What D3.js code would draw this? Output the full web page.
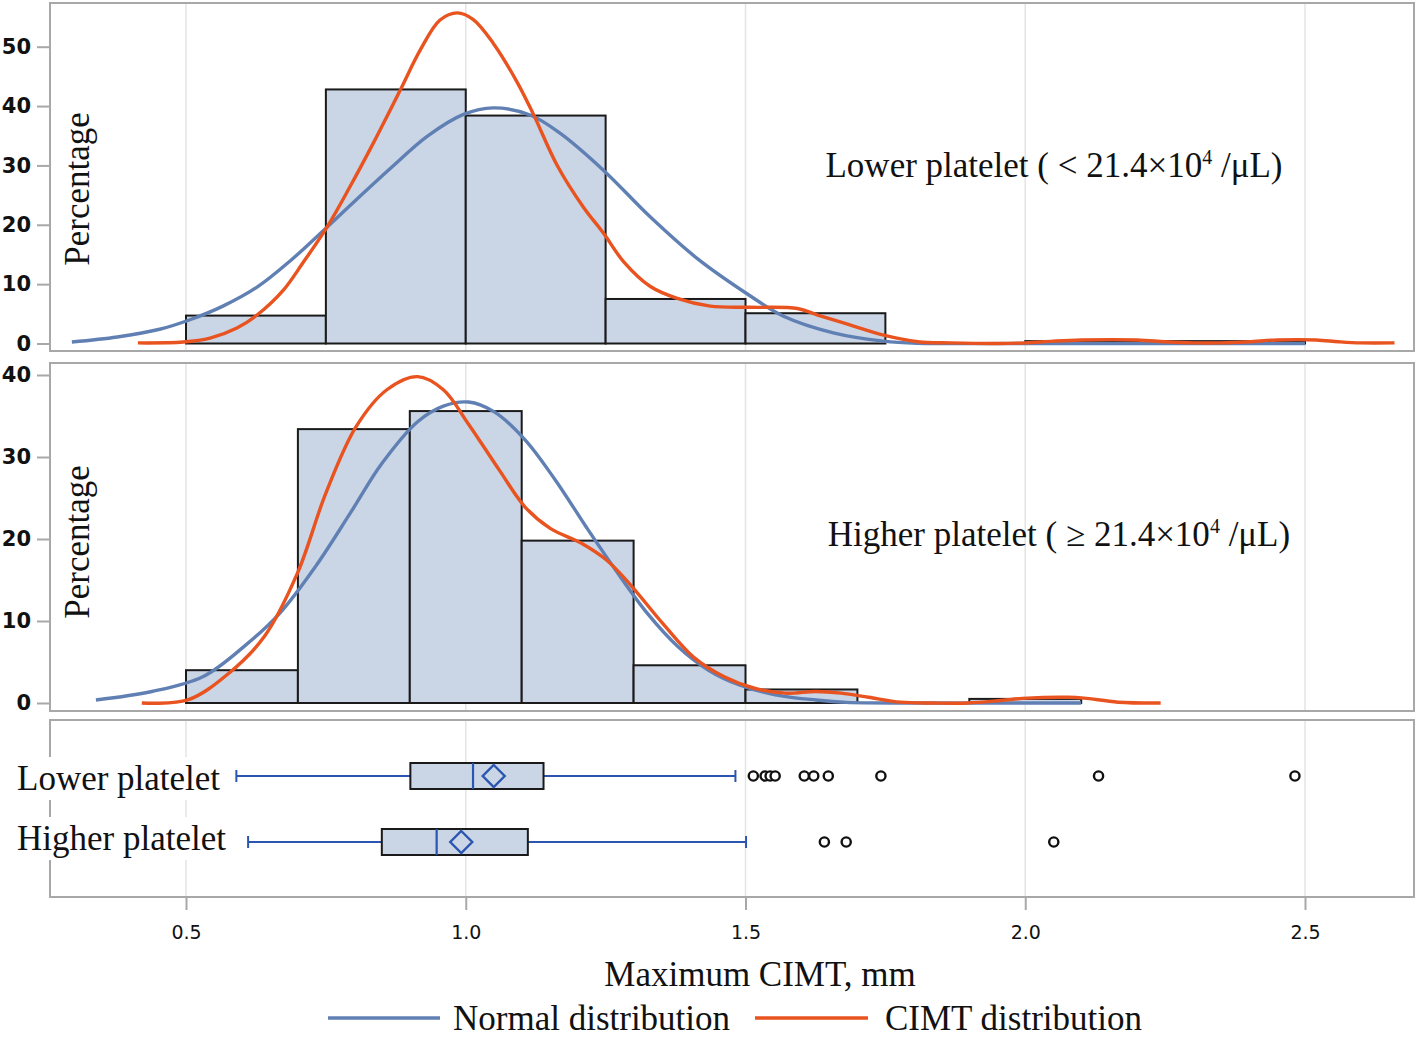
<!DOCTYPE html>
<html><head><meta charset="utf-8">
<script src="https://cdn.jsdelivr.net/npm/d3@7"></script>
<style>
html,body{margin:0;padding:0;background:#fff;}
svg{display:block;}
</style></head>
<body>
<svg id="chart" width="1418" height="1042"></svg>
<script>
// ---------- DATA ----------
const xTicks = [0.5, 1.0, 1.5, 2.0, 2.5];
const topYTicks = [0, 10, 20, 30, 40, 50];
const midYTicks = [0, 10, 20, 30, 40];

const topLabel = "Lower platelet ( < 21.4×10";
const midLabel = "Higher platelet ( ≥ 21.4×10";
const labelSup = "4";
const labelTail = " /μL)";

// Histogram: lower platelet (bin edges and percentages)
const topBinEdges = [0.5, 0.75, 1.0, 1.25, 1.5, 1.75, 2.0, 2.25, 2.5];
const topPct = [4.7, 42.8, 38.4, 7.5, 5.1, 0, 0.4, 0.4];
// Histogram: higher platelet
const midBinEdges = [0.5, 0.7, 0.9, 1.1, 1.3, 1.5, 1.7, 1.9, 2.1];
const midPct = [4.0, 33.4, 35.6, 19.8, 4.6, 1.65, 0, 0.5];

// Normal distribution curve (lower platelet) [mm, %]
const topNormal = [[0.296,0.25],[0.377,1.1],[0.453,2.4],[0.507,4.0],[0.566,6.3],[0.627,9.5],[0.686,13.9],[0.752,19.6],[0.811,24.8],[0.870,29.9],[0.931,34.9],[0.996,38.6],[1.049,39.7],[1.115,38.5],[1.169,35.4],[1.246,29.2],[1.330,21.3],[1.414,14.3],[1.504,8.3],[1.568,4.6],[1.657,1.8],[1.747,0.4],[1.808,0.05],[2.0,0],[2.5,0]];
// CIMT (kernel) distribution curve (lower platelet)
const topKernel = [[0.414,0.1],[0.495,0.25],[0.543,0.9],[0.591,2.6],[0.627,4.8],[0.674,9.0],[0.709,13.6],[0.752,19.6],[0.793,26.4],[0.835,33.8],[0.883,42.7],[0.919,49.5],[0.954,54.5],[0.985,55.7],[1.013,54.6],[1.049,50.6],[1.092,44.0],[1.121,38.6],[1.164,29.9],[1.210,23.0],[1.246,18.6],[1.282,13.8],[1.330,9.6],[1.378,7.6],[1.437,6.3],[1.509,6.1],[1.593,5.9],[1.629,4.8],[1.688,3.1],[1.747,1.4],[1.808,0.3],[1.867,0.1],[1.95,0],[2.0,0.1],[2.05,0.4],[2.1,0.6],[2.2,0.6],[2.25,0.3],[2.3,0.1],[2.35,0.1],[2.4,0.3],[2.45,0.6],[2.52,0.6],[2.56,0.3],[2.6,0.1],[2.66,0.1]];
// Normal distribution curve (higher platelet)
const midNormal = [[0.339,0.37],[0.439,1.4],[0.530,3.2],[0.604,6.9],[0.667,10.9],[0.731,16.6],[0.795,23.3],[0.850,29.2],[0.914,34.3],[0.960,36.2],[1.005,36.7],[1.051,35.5],[1.106,32.1],[1.160,27.2],[1.215,21.5],[1.270,16.0],[1.325,10.9],[1.379,6.9],[1.434,4.0],[1.489,2.2],[1.553,1.0],[1.626,0.37],[1.680,0.08],[1.8,0],[2.1,0]];
// CIMT (kernel) distribution curve (higher platelet)
const midKernel = [[0.421,0],[0.503,0.37],[0.576,3.6],[0.640,8.1],[0.699,15.8],[0.750,25.6],[0.804,33.7],[0.859,38.2],[0.914,39.8],[0.960,38.2],[1.005,34.0],[1.060,28.4],[1.106,23.9],[1.151,21.3],[1.206,19.5],[1.252,17.4],[1.297,14.2],[1.352,9.7],[1.407,5.6],[1.462,3.2],[1.516,1.8],[1.571,1.2],[1.626,1.4],[1.671,1.2],[1.72,0.7],[1.777,0.1],[1.836,0],[1.897,0],[1.956,0.3],[2.004,0.6],[2.076,0.7],[2.105,0.6],[2.166,0.1],[2.242,0]];

// Box plots
const boxGroups = ["Lower platelet", "Higher platelet"];
const whiskerLow = [0.590, 0.611];
const q1 = [0.901, 0.850];
const median = [1.013, 0.948];
const mean = [1.050, 0.992];
const q3 = [1.139, 1.111];
const whiskerHigh = [1.482, 1.501];
const outliers = [
  [1.514, 1.535, 1.544, 1.553, 1.605, 1.622, 1.648, 1.742, 2.131, 2.482],
  [1.641, 1.680, 2.051]
];

const xTitle = "Maximum CIMT, mm";
const yTitle = "Percentage";
const legendItems = ["Normal distribution", "CIMT distribution"];

// ---------- STYLE ----------
const C = {
  barFill: "#cad5e6", barStroke: "#1a1a1a",
  normal: "#6080b4", kernel: "#e8531f",
  frame: "#a8a8a8", grid: "#e4e4e4",
  box: "#2a55b0", text: "#111"
};
const serif = "'Liberation Serif','Times New Roman',serif";
const sans = "'DejaVu Sans',sans-serif";

const svg = d3.select("#chart");
const L = 50, R = 1414;
const panels = {
  top: {y0: 3, y1: 351},
  mid: {y0: 363, y1: 711},
  box: {y0: 720, y1: 897}
};

const x = d3.scaleLinear().domain([0.5, 2.5]).range([186, 1305]);
const yTop = d3.scaleLinear().domain([0, 50]).range([343.5, 46.7]);
const yMid = d3.scaleLinear().domain([0, 40]).range([703, 375]);
const yBox = d3.scalePoint().domain(boxGroups).range([776, 842]);

// gridlines
Object.values(panels).forEach(p => {
  svg.append("g").selectAll("line").data(xTicks).join("line")
    .attr("x1", d => x(d)).attr("x2", d => x(d))
    .attr("y1", p.y0).attr("y2", p.y1)
    .attr("stroke", C.grid).attr("stroke-width", 1.5);
});

function histPanel(yScale, edges, pct, normal, kernel, ticks, titleY, titleX) {
  const bins = pct.map((v, i) => ({x0: edges[i], x1: edges[i+1], v}));
  svg.append("g").selectAll("rect").data(bins.filter(b => b.v > 0)).join("rect")
    .attr("x", d => x(d.x0)).attr("width", d => x(d.x1) - x(d.x0))
    .attr("y", d => yScale(d.v)).attr("height", d => yScale(0) - yScale(d.v))
    .attr("fill", C.barFill).attr("stroke", C.barStroke).attr("stroke-width", 2);
  const line = d3.line().x(d => x(d[0])).y(d => Math.min(yScale(0), yScale(d[1])))
    .curve(d3.curveCatmullRom.alpha(0.5));
  svg.append("path").datum(normal).attr("d", line)
    .attr("fill", "none").attr("stroke", C.normal).attr("stroke-width", 3.4)
    .attr("stroke-linejoin", "round");
  svg.append("path").datum(kernel).attr("d", line)
    .attr("fill", "none").attr("stroke", C.kernel).attr("stroke-width", 3.4)
    .attr("stroke-linejoin", "round");
  // y axis
  const ax = svg.append("g").attr("transform", `translate(${L},0)`)
    .call(d3.axisLeft(yScale).tickValues(ticks).tickSize(13).tickPadding(6).tickFormat(d3.format("d")));
  ax.select(".domain").remove();
  ax.selectAll(".tick line").attr("stroke", C.frame).attr("stroke-width", 2);
  ax.selectAll(".tick text").attr("font-family", sans).attr("font-size", 21)
    .attr("font-weight", "bold").attr("fill", C.text);
  // y title
  svg.append("text").attr("transform", `translate(${titleX},${titleY}) rotate(-90)`)
    .attr("text-anchor", "middle").attr("font-family", serif).attr("font-size", 35)
    .attr("fill", C.text).text(yTitle);
}

histPanel(yTop, topBinEdges, topPct, topNormal, topKernel, topYTicks, 189, 89);
histPanel(yMid, midBinEdges, midPct, midNormal, midKernel, midYTicks, 542, 89);

// panel labels
function panelLabel(txt, cx, baseline) {
  const t = svg.append("text").attr("x", cx).attr("y", baseline).attr("text-anchor", "middle")
    .attr("font-family", serif).attr("font-size", 35).attr("fill", C.text);
  t.append("tspan").text(txt);
  t.append("tspan").attr("dy", -13).attr("font-size", 20).text(labelSup);
  t.append("tspan").attr("dy", 13).text(labelTail);
}
panelLabel(topLabel, 1054, 177);
panelLabel(midLabel, 1059, 546);

// box plots
const bh = 13;
boxGroups.forEach((g, i) => {
  const cy = yBox(g);
  const gg = svg.append("g");
  gg.append("line").attr("x1", x(whiskerLow[i])).attr("x2", x(q1[i])).attr("y1", cy).attr("y2", cy)
    .attr("stroke", C.box).attr("stroke-width", 2);
  gg.append("line").attr("x1", x(q3[i])).attr("x2", x(whiskerHigh[i])).attr("y1", cy).attr("y2", cy)
    .attr("stroke", C.box).attr("stroke-width", 2);
  [whiskerLow[i], whiskerHigh[i]].forEach(w => {
    gg.append("line").attr("x1", x(w)).attr("x2", x(w)).attr("y1", cy - 6).attr("y2", cy + 6)
      .attr("stroke", C.box).attr("stroke-width", 2);
  });
  gg.append("rect").attr("x", x(q1[i])).attr("width", x(q3[i]) - x(q1[i]))
    .attr("y", cy - bh).attr("height", 2 * bh)
    .attr("fill", C.barFill).attr("stroke", C.barStroke).attr("stroke-width", 2);
  gg.append("line").attr("x1", x(median[i])).attr("x2", x(median[i])).attr("y1", cy - bh).attr("y2", cy + bh)
    .attr("stroke", C.box).attr("stroke-width", 2.2);
  const mx = x(mean[i]), dr = 11;
  gg.append("path").attr("d", `M${mx},${cy - dr}L${mx + dr},${cy}L${mx},${cy + dr}L${mx - dr},${cy}Z`)
    .attr("fill", "none").attr("stroke", C.box).attr("stroke-width", 2.4);
  gg.selectAll("circle").data(outliers[i]).join("circle")
    .attr("cx", d => x(d)).attr("cy", cy).attr("r", 4.6)
    .attr("fill", "#fff").attr("stroke", "#111").attr("stroke-width", 2.4);
});

// frames
Object.values(panels).forEach(p => {
  svg.append("rect").attr("x", L).attr("y", p.y0).attr("width", R - L).attr("height", p.y1 - p.y0)
    .attr("fill", "none").attr("stroke", C.frame).attr("stroke-width", 2);
});

// box labels with white background
const labelBase = [790, 850];
boxGroups.forEach((g, i) => {
  const t = svg.append("text").attr("x", 17).attr("y", labelBase[i])
    .attr("font-family", serif).attr("font-size", 35).attr("fill", C.text).text(g);
  const bb = t.node().getBBox();
  svg.insert("rect", () => t.node()).attr("x", bb.x - 2).attr("y", bb.y - 2)
    .attr("width", bb.width + 6).attr("height", bb.height + 4).attr("fill", "#fff");
});

// x axis
const xa = svg.append("g").attr("transform", `translate(0,${panels.box.y1})`)
  .call(d3.axisBottom(x).tickValues(xTicks).tickSize(13).tickPadding(16).tickFormat(d3.format(".1f")));
xa.select(".domain").remove();
xa.selectAll(".tick line").attr("stroke", C.frame).attr("stroke-width", 2);
xa.selectAll(".tick text").attr("font-family", sans).attr("font-size", 19).attr("fill", C.text);

svg.append("text").attr("x", 760).attr("y", 986).attr("text-anchor", "middle")
  .attr("font-family", serif).attr("font-size", 35).attr("fill", C.text).text(xTitle);

// legend
const legend = [
  {label: legendItems[0], color: C.normal, x1: 328, x2: 440, tx: 453},
  {label: legendItems[1], color: C.kernel, x1: 755, x2: 868, tx: 885}
];
legend.forEach(l => {
  svg.append("line").attr("x1", l.x1).attr("x2", l.x2).attr("y1", 1018).attr("y2", 1018)
    .attr("stroke", l.color).attr("stroke-width", 3.6);
  svg.append("text").attr("x", l.tx).attr("y", 1030).attr("font-family", serif)
    .attr("font-size", 35).attr("fill", C.text).text(l.label);
});
</script>
</body></html>
